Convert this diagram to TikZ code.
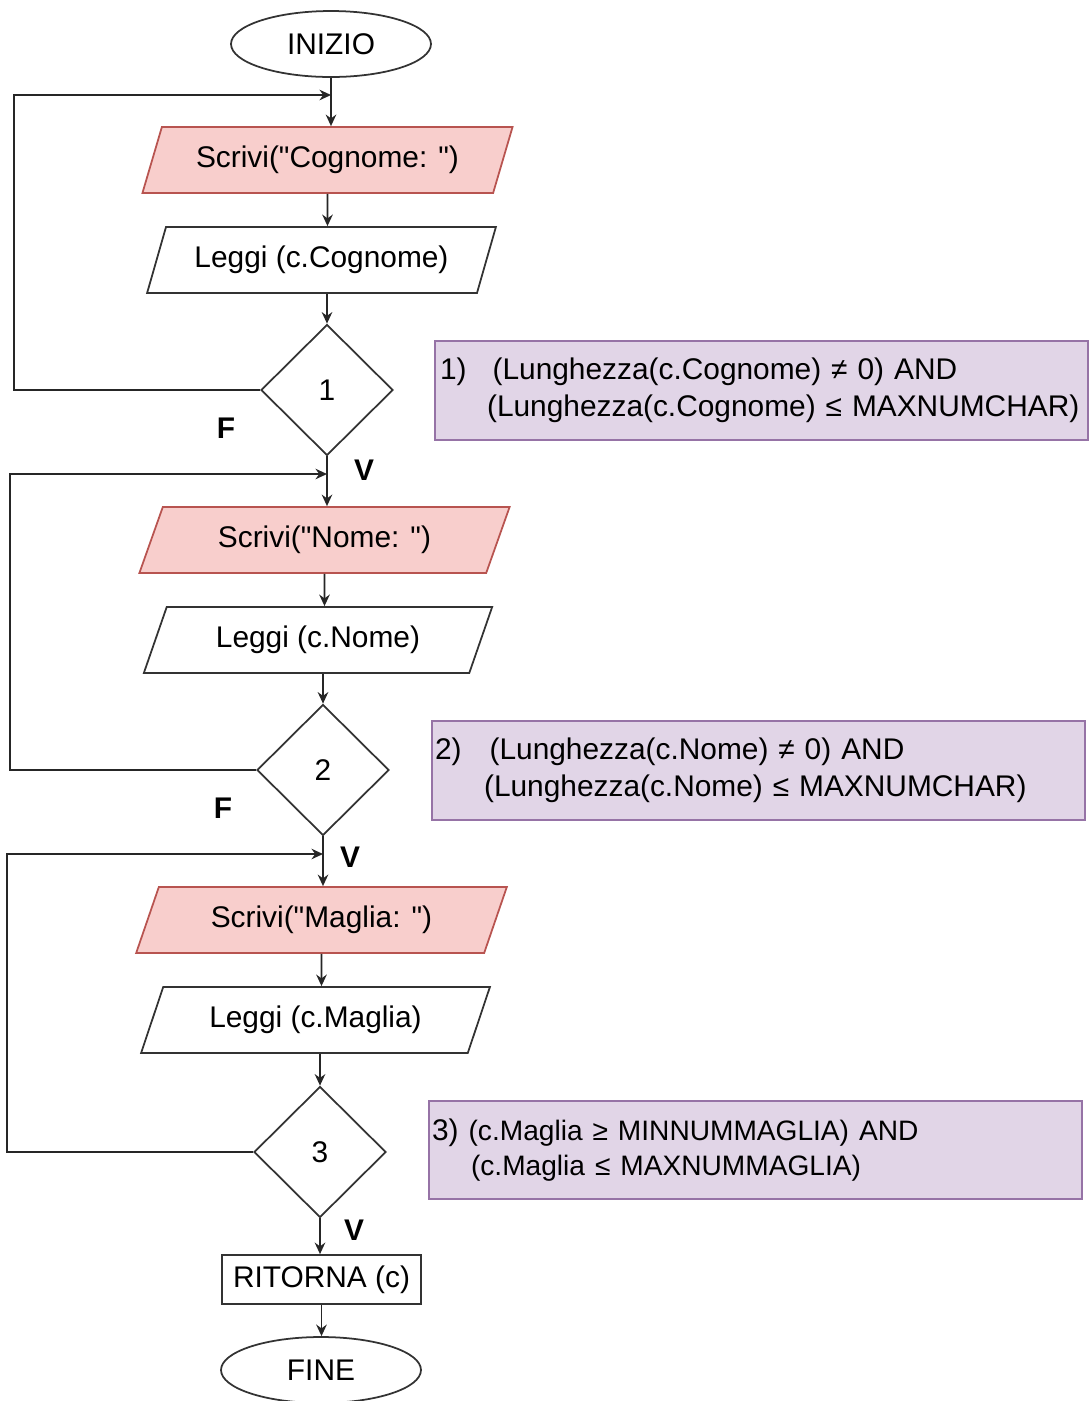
\documentclass[tikz,border=0pt]{standalone}
\usepackage{fontspec}
\setmainfont{Liberation Sans}[Ligatures=TeXOff]
\usetikzlibrary{shapes.geometric,arrows.meta}
\definecolor{outfill}{HTML}{F8CECC}
\definecolor{outline}{HTML}{B85450}
\definecolor{notefill}{HTML}{E1D5E7}
\definecolor{noteline}{HTML}{9673A6}

\begin{document}
\begin{tikzpicture}[x=0.02cm,y=-0.02cm,
font=\fontsize{17}{21}\selectfont,
termnode/.style={ellipse, draw=black!80, line width=1pt, minimum width=4cm, minimum height=1.32cm, inner sep=0pt},
outnode/.style={trapezium, trapezium left angle=61, trapezium right angle=119, trapezium stretches=true, draw=outline, fill=outfill, line width=1pt, minimum width=7.42cm, minimum height=1.32cm, inner sep=0pt},
innode/.style={trapezium, trapezium left angle=61, trapezium right angle=119, trapezium stretches=true, draw=black!80, line width=1pt, minimum width=6.98cm, minimum height=1.32cm, inner sep=0pt},
decnode/.style={diamond, draw=black!80, line width=1pt, minimum width=2.64cm, minimum height=2.62cm, inner sep=0pt},
retnode/.style={rectangle, draw=black!80, line width=1pt, minimum width=3.98cm, minimum height=0.98cm},
notenode/.style={rectangle, draw=noteline, fill=notefill, line width=1pt, minimum height=1.98cm, align=left},
flag/.style={font=\fontsize{17}{21}\selectfont\bfseries},
arr/.style={>={Stealth[length=2.3mm,width=2.1mm]}, ->, line width=1.1pt, draw=black!85},
]
\useasboundingbox (0,0) rectangle (1090,1401);

%Nodes
\node[termnode] (inizio)  at (331,44)     {INIZIO};
\node[outnode]  (scrivi1) at (327.5,160)  {Scrivi("Cognome: ")};
\node[innode]   (leggi1)  at (321.5,260)  {Leggi (c.Cognome)};
\node[decnode]  (dec1)    at (327,390)    {1};

\node[outnode]  (scrivi2) at (324.5,540)  {Scrivi("Nome: ")};
\node[innode]   (leggi2)  at (318,640)    {Leggi (c.Nome)};
\node[decnode]  (dec2)    at (323,770)    {2};

\node[outnode]  (scrivi3) at (321.5,920)  {Scrivi("Maglia: ")};
\node[innode]   (leggi3)  at (315.5,1020) {Leggi (c.Maglia)};
\node[decnode]  (dec3)    at (320,1152)   {3};

\node[retnode]  (ritorna) at (321.5,1279.5) {RITORNA (c)};
\node[termnode] (fine)    at (321,1370)   {FINE};

%Notes
\node[notenode, text width=12.86cm, inner xsep=0.1cm] (note1) at (761.5,390.5)
  {1)\hspace{0.52cm}(Lunghezza(c.Cognome) ≠ 0) AND\\\hspace{0.94cm}(Lunghezza(c.Cognome) ≤ MAXNUMCHAR)};
\node[notenode, text width=12.94cm, inner xsep=0.06cm] (note2) at (758.5,770.5)
  {2)\hspace{0.56cm}(Lunghezza(c.Nome) ≠ 0) AND\\\hspace{0.98cm}(Lunghezza(c.Nome) ≤ MAXNUMCHAR)};
\node[notenode, text width=12.94cm, inner xsep=0.06cm, minimum height=1.96cm] (note3) at (755.5,1150)
  {3)\hspace{0.2cm}{\fontsize{16}{20}\selectfont(c.Maglia ≥ MINNUMMAGLIA) AND}\\[-1pt]\hspace{0.78cm}{\fontsize{16}{20}\selectfont(c.Maglia ≤ MAXNUMMAGLIA)}};

%Labels
\node[flag] (f1) at (226,428)  {F};
\node[flag] (v1) at (364,470)  {V};
\node[flag] (f2) at (223,808)  {F};
\node[flag] (v2) at (350,857)  {V};
\node[flag] (v3) at (354,1230) {V};

%Joins
\coordinate (in1) at (331,95);
\coordinate (in2) at (327,474);
\coordinate (in3) at (323,854);

%Lines
\draw[arr] (inizio) -- (inizio |- scrivi1.north);
\draw[arr] (scrivi1) -- (scrivi1 |- leggi1.north);
\draw[arr] (dec1 |- leggi1.south) -- (dec1);
\draw[arr] (dec1.west) -- ++(-246,0) |- (in1);

\draw[arr] (dec1) -- (dec1 |- scrivi2.north);
\draw[arr] (scrivi2) -- (scrivi2 |- leggi2.north);
\draw[arr] (dec2 |- leggi2.south) -- (dec2);
\draw[arr] (dec2.west) -- ++(-246,0) |- (in2);

\draw[arr] (dec2) -- (dec2 |- scrivi3.north);
\draw[arr] (scrivi3) -- (scrivi3 |- leggi3.north);
\draw[arr] (dec3 |- leggi3.south) -- (dec3);
\draw[arr] (dec3.west) -- ++(-246,0) |- (in3);

\draw[arr] (dec3) -- (dec3 |- ritorna.north);
\draw[arr] (ritorna) -- (ritorna |- fine.north);

\end{tikzpicture}
\end{document}
